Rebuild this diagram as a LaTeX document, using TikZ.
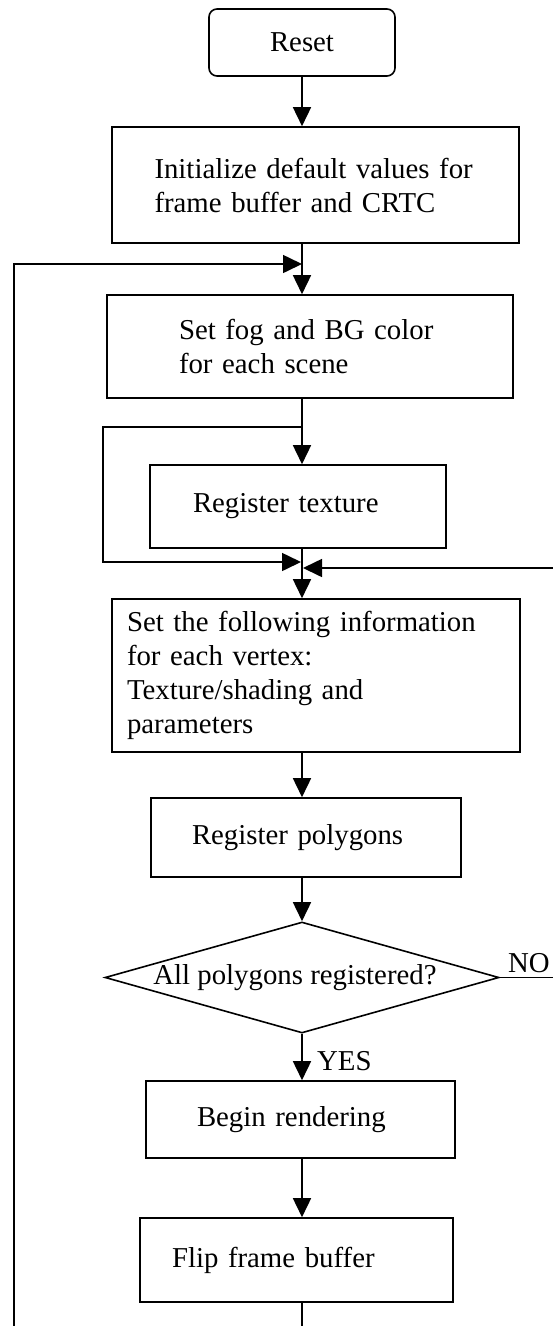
\documentclass[tikz,border=0pt]{standalone}
\usepackage{fontspec}
\setmainfont{Liberation Serif}
\usetikzlibrary{arrows.meta,shapes.geometric}

\begin{document}
\begin{tikzpicture}[x=1pt,y=-1pt,font=\fontsize{28.8}{34}\selectfont]
  \tikzset{stepbox/.style = {draw, line width=1.6pt, align=left, inner ysep=0pt}}
  \tikzset{decision/.style = {draw, diamond, line width=1.6pt, inner sep=0pt, minimum width=394pt, minimum height=111pt}}
  \tikzset{flow/.style = {line width=1.6pt, -{Triangle[length=19pt,width=18pt]}}}
  \tikzset{plain/.style = {line width=1.6pt}}
  \tikzset{tag/.style = {inner sep=0pt, anchor=base west}}

\useasboundingbox (0,0) rectangle (553,1326);
\clip (0,0) rectangle (553,1326);

\coordinate (spine) at (302,0);

\node[stepbox, rounded corners=8pt, align=center, minimum width=186pt, minimum height=67pt] (reset) at (302,42.5) {Reset};
\node[stepbox, text width=322pt, inner xsep=42.5pt, minimum height=116pt] (init) at (315.5,185) {Initialize default values for\\frame buffer and CRTC};
\node[stepbox, text width=262pt, inner xsep=72pt, minimum height=103pt] (fog) at (310,346.5) {Set fog and BG color\\for each scene};
\node[stepbox, text width=210pt, inner xsep=43pt, minimum height=83pt] (tex) at (298,506.5) {Register texture};
\node[stepbox, text width=378pt, inner xsep=15pt, minimum height=153pt] (info) at (316,675.5) {Set the following information\\for each vertex:\\Texture/shading and\\parameters};
\node[stepbox, text width=228pt, inner xsep=41pt, minimum height=79pt] (poly) at (306,837.5) {Register polygons};
\node[decision, label={[xshift=-7pt]center:All polygons registered?}] (dec) at (302,977.5) {};
\node[stepbox, text width=207pt, inner xsep=51pt, minimum height=77pt] (render) at (300.5,1119.5) {Begin rendering};
\node[stepbox, text width=249pt, inner xsep=32pt, minimum height=84pt] (flip) at (296.5,1260) {Flip frame buffer};

\node[tag] (yes) at (317,1070) {YES};
\node[tag] (no) at (508,972) {NO};

\coordinate (top) at (302,264);
\coordinate (mid) at (302,427);
\coordinate (skipL) at (103,562);
\coordinate (joinL) at (301,562);
\coordinate (joinR) at (303,568);
\coordinate (noR) at (575,977.5);
\coordinate (backL) at (14,1345);

    \draw[flow] (reset.south -| spine) -- (spine |- init.north);
    \draw[plain] (init.south -| spine) -- (top);
    \draw[flow] (top) -- (spine |- fog.north);
    \draw[plain] (fog.south -| spine) -- (mid);
    \draw[flow] (mid) -- (spine |- tex.north);
    \draw[flow] (mid) -| (skipL) -- (joinL);
    \draw[flow] (tex.south -| spine) -- (spine |- info.north);
    \draw[flow] (info.south -| spine) -- (spine |- poly.north);
    \draw[flow] (poly.south -| spine) -- (dec.north);
    \draw[flow] (dec.south) -- (spine |- render.north);
    \draw[flow] (render.south -| spine) -- (spine |- flip.north);
    % back to the texture step
    \draw[flow] (dec.east) -- (noR) |- (joinR);
    % next scene
    \draw[flow] (flip.south -| spine) |- (backL) |- (top);

\end{tikzpicture}
\end{document}
